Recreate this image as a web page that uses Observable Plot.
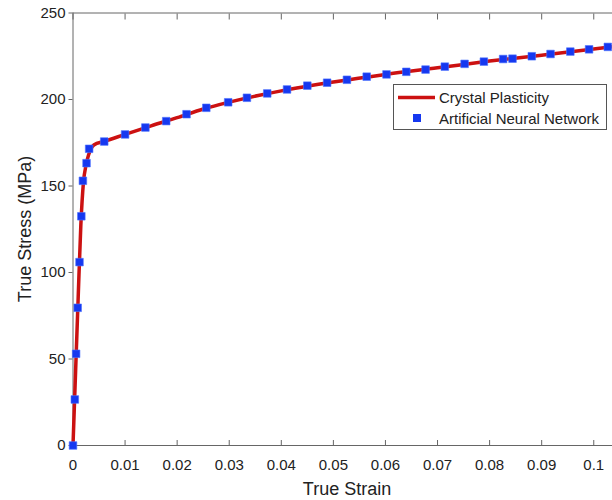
<!DOCTYPE html>
<html><head><meta charset="utf-8">
<script src="https://cdn.jsdelivr.net/npm/d3@7"></script>
<script src="https://cdn.jsdelivr.net/npm/@observablehq/plot@0.6"></script>
<style>body{margin:0;background:#fff;} #chart{width:612px;height:500px;}</style>
</head><body><div id="chart"></div>
<script>
// ANN markers
const annStrain = [0, 0.00035, 0.0006, 0.0009, 0.00125, 0.0016, 0.0019, 0.0026, 0.0031, 0.0060, 0.0100, 0.0139, 0.0179, 0.0218, 0.0256, 0.0298, 0.0334, 0.0373, 0.0411, 0.0450, 0.0488, 0.0526, 0.0564, 0.0602, 0.0640, 0.0677, 0.0714, 0.0752, 0.0789, 0.0826, 0.0844, 0.0881, 0.0917, 0.0955, 0.0991, 0.1027];
const annStress = [0, 26.6, 53, 79.6, 106, 132.5, 153, 163.2, 171.5, 175.7, 179.8, 183.8, 187.5, 191.5, 195.2, 198.4, 201, 203.5, 205.8, 208, 209.7, 211.4, 213.2, 214.5, 216, 217.3, 219, 220.6, 221.9, 223.4, 223.6, 225, 226.3, 227.7, 229, 230.4];
// Crystal plasticity curve
const cpStrain = [0, 0.0005, 0.001, 0.0015, 0.002, 0.0025, 0.003, 0.004, 0.006, 0.01, 0.015, 0.02, 0.025, 0.03, 0.04, 0.05, 0.06, 0.07, 0.08, 0.09, 0.1, 0.1036];
const cpStress = [0, 43, 86, 127, 152, 162, 168, 173.7, 175.8, 179.8, 184.8, 189.5, 194.5, 198.5, 205, 210.1, 214.5, 218.3, 222.2, 225.6, 229.2, 230.6];
const xTicks = [0, 0.01, 0.02, 0.03, 0.04, 0.05, 0.06, 0.07, 0.08, 0.09, 0.1];
const xTickLabels = ["0", "0.01", "0.02", "0.03", "0.04", "0.05", "0.06", "0.07", "0.08", "0.09", "0.1"];
const yTicks = [0, 50, 100, 150, 200, 250];
const seriesNames = ["Crystal Plasticity", "Artificial Neural Network"];
const xLabel = "True Strain";
const yLabel = "True Stress (MPa)";

const cp = cpStrain.map((x, i) => ({x, y: cpStress[i]}));
const ann = annStrain.map((x, i) => ({x, y: annStress[i]}));

const RED = "#cc1111", BLUE = "#1638f0", AX = "#666";
const FONT = "'Liberation Sans', Arial, sans-serif";

const chart = Plot.plot({
  width: 612, height: 500,
  marginLeft: 72.5, marginRight: 0, marginTop: 12.5, marginBottom: 55,
  style: {fontFamily: FONT, fontSize: "15px", color: "#222", background: "#fff", overflow: "hidden"},
  x: {domain: [0, 0.1036], label: null},
  y: {domain: [0, 250], label: null},
  marks: [
    Plot.axisX({ticks: xTicks, tickSize: 0, tickPadding: 14, tickFormat: (d) => xTickLabels[xTicks.indexOf(d)], fill: "#222"}),
    Plot.axisX({anchor: "bottom", ticks: xTicks, tickSize: -5, tickFormat: () => "", stroke: AX}),
    Plot.axisX({anchor: "top", ticks: xTicks, tickSize: -6, tickFormat: () => "", stroke: AX}),
    Plot.axisY({ticks: yTicks, tickSize: 4, tickPadding: 3.5, stroke: AX, fill: "#222"}),
    Plot.frame({anchor: "left", stroke: AX}),
    Plot.frame({anchor: "bottom", stroke: AX}),
    Plot.frame({anchor: "top", stroke: AX}),
    Plot.line(cp, {x: "x", y: "y", stroke: RED, strokeWidth: 3.5, curve: "monotone-x"}),
    Plot.dot(ann, {x: "x", y: "y", symbol: "square", r: 4.3, fill: BLUE, stroke: "#4d74ff", strokeWidth: 0.6})
  ]
});

document.getElementById("chart").appendChild(chart);
const svg = d3.select(chart);

// axis titles
svg.append("text").attr("x", 347).attr("y", 495).attr("text-anchor", "middle")
  .attr("font-family", FONT).attr("font-size", 18).attr("fill", "#222").text(xLabel);
svg.append("text").attr("transform", "translate(31,229) rotate(-90)").attr("text-anchor", "middle")
  .attr("font-family", FONT).attr("font-size", 18).attr("fill", "#222").text(yLabel);

// legend
const lg = svg.append("g").attr("font-family", FONT).attr("font-size", 15).attr("fill", "#222").attr("text-anchor", "start");
lg.append("rect").attr("x", 393.5).attr("y", 84.5).attr("width", 213).attr("height", 45)
  .attr("fill", "#fff").attr("stroke", "#555").attr("stroke-width", 1);
lg.append("line").attr("x1", 398).attr("x2", 435).attr("y1", 97.5).attr("y2", 97.5)
  .attr("stroke", RED).attr("stroke-width", 3.5);
lg.append("text").attr("x", 439).attr("y", 103).attr("text-anchor", "start").text(seriesNames[0]);
lg.append("rect").attr("x", 413).attr("y", 114).attr("width", 8).attr("height", 8).attr("fill", BLUE);
lg.append("text").attr("x", 439).attr("y", 123.5).attr("text-anchor", "start").text(seriesNames[1]);
</script>
</body></html>
